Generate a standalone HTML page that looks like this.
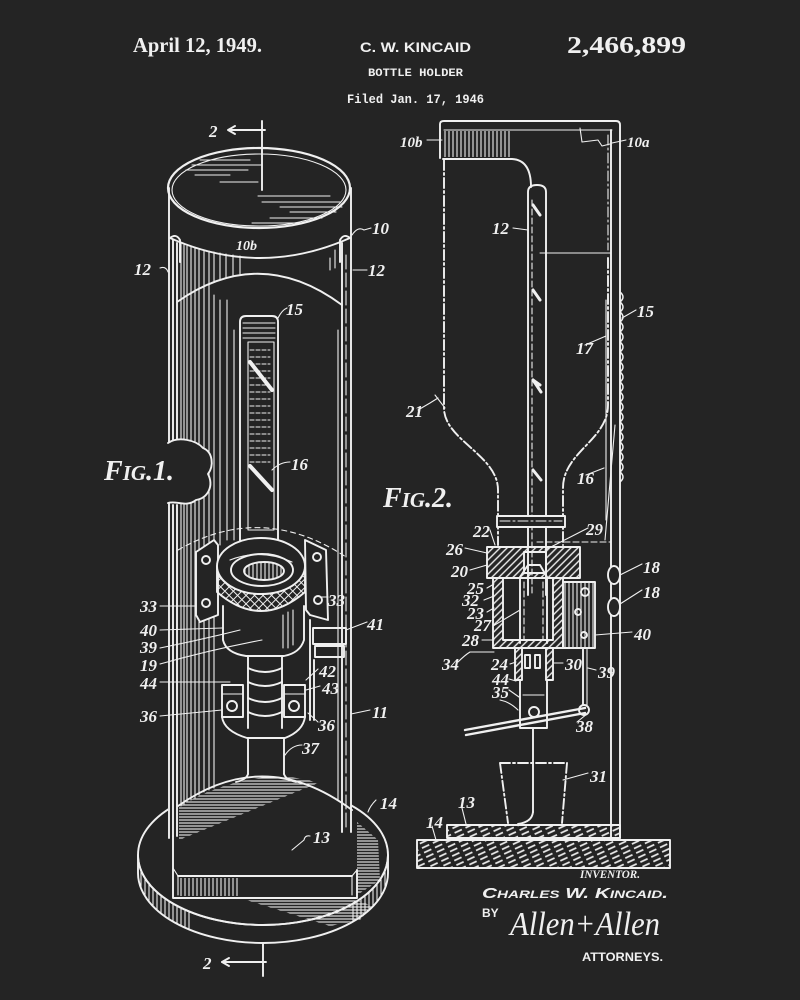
<!DOCTYPE html>
<html><head><meta charset="utf-8">
<style>
html,body{margin:0;padding:0;background:#242424;}
svg{display:block}
.l{fill:none;stroke:#f0f0f0;stroke-width:1.9;stroke-linecap:round;stroke-linejoin:round}
.t{stroke-width:1.1}
.d{stroke-dasharray:10 3 2 3}
.lab{font-family:"Liberation Serif",serif;font-style:italic;font-weight:bold;font-size:17px;fill:#f0f0f0}
</style></head><body>
<svg width="800" height="1000" viewBox="0 0 800 1000" xmlns="http://www.w3.org/2000/svg">
<defs>
 <pattern id="vh" width="4" height="10" patternUnits="userSpaceOnUse"><line x1="1" y1="0" x2="1" y2="10" stroke="#eee" stroke-width="1.1"/></pattern>
 <pattern id="hh" width="10" height="3" patternUnits="userSpaceOnUse"><line x1="0" y1="1" x2="10" y2="1" stroke="#eee" stroke-width="1.1"/></pattern>
 <pattern id="dh" width="5" height="5" patternUnits="userSpaceOnUse" patternTransform="rotate(-45)"><line x1="0" y1="1" x2="5" y2="1" stroke="#eee" stroke-width="1.4"/></pattern>
 <pattern id="kn" width="6" height="6" patternUnits="userSpaceOnUse" patternTransform="rotate(45)"><path d="M0,1 H6 M1,0 V6" stroke="#eee" stroke-width="1"/></pattern>
 <pattern id="wood" width="12" height="5" patternUnits="userSpaceOnUse" patternTransform="rotate(-25)"><line x1="0" y1="2" x2="8" y2="2" stroke="#eee" stroke-width="1.7"/></pattern>
 <clipPath id="rimclip"><rect x="130" y="840" width="62" height="120"/><rect x="352" y="840" width="50" height="120"/></clipPath>
</defs>
<rect width="800" height="1000" fill="#242424"/>

<!-- HEADER -->
<text x="133" y="52" font-family="Liberation Serif,serif" font-weight="bold" font-size="21" fill="#f0f0f0" textLength="129" lengthAdjust="spacingAndGlyphs">April 12, 1949.</text>
<text x="360" y="52" font-family="Liberation Sans,sans-serif" font-weight="bold" font-size="14" fill="#f0f0f0" textLength="111" lengthAdjust="spacingAndGlyphs">C. W. KINCAID</text>
<text x="567" y="53" font-family="Liberation Serif,serif" font-weight="bold" font-size="24" fill="#f0f0f0" textLength="119" lengthAdjust="spacingAndGlyphs">2,466,899</text>
<text x="368" y="76" font-family="Liberation Mono,monospace" font-weight="bold" font-size="11" fill="#f0f0f0" textLength="95" lengthAdjust="spacingAndGlyphs">BOTTLE HOLDER</text>
<text x="347" y="103" font-family="Liberation Mono,monospace" font-weight="bold" font-size="13" fill="#f0f0f0" textLength="137" lengthAdjust="spacingAndGlyphs">Filed Jan. 17, 1946</text>

<!-- ============ FIG 1 ============ -->
<g class="l">
 <!-- base disk -->
 <ellipse cx="263" cy="855" rx="125" ry="70"/>
 <path d="M138,855 A125,70 0 0 0 388,855 L388,873 A125,70 0 0 1 138,873 L138,855" />
 <path d="M138,855 A125,70 0 0 0 388,855 L388,873 A125,70 0 0 1 138,873 Z" fill="url(#vh)" stroke="none" clip-path="url(#rimclip)"/>
 <!-- disk shading under plate -->
 <path d="M240,898 L352,898 L372,906 L360,920 L330,926 Z" fill="url(#hh)" stroke="none"/>
 <path d="M357,822 L378,840 L380,880 L357,895 Z" fill="url(#hh)" stroke="none"/>
</g>
<!-- cylinder body cover -->
<rect x="168" y="186" width="183" height="652" fill="#242424"/>
<rect x="173" y="836" width="184" height="62" fill="#242424"/>
<g class="l">
 <!-- section 2 top -->
 <line x1="262" y1="121" x2="262" y2="190"/>
 <line x1="229" y1="130" x2="265" y2="130"/>
 <path d="M235,126 L228,130 L235,134"/>
 <!-- top ellipse -->
 <ellipse cx="259" cy="188" rx="91" ry="40" stroke-width="2.2"/>
 <ellipse cx="259" cy="190" rx="87" ry="36" class="t"/>
 <!-- top face hatch -->
 <g class="t">
  <line x1="200" y1="160" x2="250" y2="160"/><line x1="192" y1="165" x2="262" y2="165"/>
  <line x1="186" y1="170" x2="248" y2="170"/><line x1="195" y1="175" x2="230" y2="175"/>
  <line x1="220" y1="182" x2="258" y2="182"/>
  <line x1="258" y1="196" x2="330" y2="196"/><line x1="262" y1="202" x2="340" y2="202"/>
  <line x1="280" y1="207" x2="342" y2="207"/><line x1="290" y1="212" x2="336" y2="212"/>
  <line x1="270" y1="218" x2="322" y2="218"/><line x1="252" y1="223" x2="300" y2="223"/>
 </g>
 <!-- outer sides -->
 <line x1="169" y1="188" x2="169" y2="443"/>
 <line x1="169" y1="503" x2="169" y2="838"/>
 <line x1="351" y1="188" x2="351" y2="832"/>
 <line x1="173" y1="240" x2="173" y2="440"/>
 <line x1="177" y1="243" x2="177" y2="440"/>
 <line x1="173" y1="505" x2="173" y2="836"/>
 <line x1="177" y1="505" x2="177" y2="836"/>
 <line x1="342" y1="243" x2="342" y2="832"/>
 <line x1="346" y1="255" x2="346" y2="830" class="t" stroke-dasharray="14 4"/>
 <!-- cut edge and back arc -->
 <path d="M170,238 Q260,278 350,238"/>
 <path d="M177,302 Q260,244 342,305"/>
 <!-- band shading -->
 <g class="t">
  <line x1="181" y1="244" x2="181" y2="806"/><line x1="184" y1="245" x2="184" y2="804"/>
  <line x1="187" y1="246" x2="187" y2="802"/><line x1="191" y1="247" x2="191" y2="800"/>
  <line x1="195" y1="248" x2="195" y2="798"/><line x1="199" y1="249" x2="199" y2="795"/>
  <line x1="204" y1="250" x2="204" y2="792"/><line x1="209" y1="251" x2="209" y2="790"/>
  <line x1="214" y1="252" x2="214" y2="282"/><line x1="214" y1="295" x2="214" y2="788"/>
  <line x1="220" y1="253" x2="220" y2="280"/><line x1="220" y1="300" x2="220" y2="545"/>
  <line x1="226" y1="254" x2="226" y2="278"/><line x1="227" y1="300" x2="227" y2="540"/>
  <line x1="233" y1="255" x2="233" y2="276"/><line x1="234" y1="330" x2="234" y2="540"/>
  <line x1="240" y1="256" x2="240" y2="274"/>
  <line x1="330" y1="258" x2="330" y2="270"/><line x1="335" y1="250" x2="335" y2="268"/>
  <line x1="338" y1="330" x2="338" y2="800"/>
 </g>
 <!-- lips -->
 <path d="M170,238 Q176,233 180,240 L180,262" />
 <path d="M350,238 Q344,233 340,240 L340,262" />
 <!-- notch break -->
 <path d="M168,443 C178,436 196,440 203,448 C213,452 214,466 208,474 C214,486 208,498 196,500 C186,508 176,500 168,503" fill="#242424"/>
 <!-- rod 15/16 -->
 <path d="M240,548 L240,322 Q240,316 246,316 L272,316 Q278,316 278,322 L278,548" fill="#242424"/>
 <line x1="243" y1="323" x2="275" y2="323" class="t"/><line x1="243" y1="328" x2="275" y2="328" class="t"/>
 <line x1="243" y1="333" x2="275" y2="333" class="t"/><line x1="243" y1="338" x2="275" y2="338" class="t"/>
 <rect x="248" y="342" width="26" height="188" class="t"/>
 <g class="t" stroke-dasharray="4 2">
  <line x1="250" y1="350" x2="270" y2="350"/><line x1="250" y1="357" x2="270" y2="357"/><line x1="250" y1="364" x2="270" y2="364"/>
  <line x1="250" y1="371" x2="270" y2="371"/><line x1="250" y1="378" x2="270" y2="378"/><line x1="250" y1="385" x2="270" y2="385"/>
  <line x1="250" y1="392" x2="270" y2="392"/><line x1="250" y1="399" x2="270" y2="399"/><line x1="250" y1="406" x2="270" y2="406"/>
  <line x1="250" y1="413" x2="270" y2="413"/><line x1="250" y1="420" x2="270" y2="420"/><line x1="250" y1="427" x2="270" y2="427"/>
  <line x1="250" y1="434" x2="270" y2="434"/><line x1="250" y1="441" x2="270" y2="441"/><line x1="250" y1="448" x2="270" y2="448"/>
  <line x1="250" y1="455" x2="270" y2="455"/><line x1="250" y1="462" x2="270" y2="462"/>
 </g>
 <line x1="250" y1="362" x2="272" y2="390" stroke-width="4"/>
 <line x1="250" y1="466" x2="272" y2="490" stroke-width="4"/>
 <!-- dashed back arc -->
 <path d="M178,550 Q262,502 346,557" class="t" stroke-dasharray="5 4"/>
 <!-- brackets -->
 <path d="M196,552 L214,540 L218,545 L218,615 L200,622 L196,615 Z" fill="#242424"/>
 <circle cx="206" cy="560" r="4"/><circle cx="206" cy="603" r="4"/>
 <path d="M305,540 L326,550 L328,620 L310,615 L306,610 Z" fill="#242424"/>
 <circle cx="317" cy="557" r="4"/><circle cx="318" cy="600" r="4"/>
 <!-- nut -->
 <path d="M217,566 A44,28 0 0 0 305,566 L305,592 Q261,630 217,592 Z" fill="url(#kn)"/>
 <ellipse cx="261" cy="566" rx="44" ry="28" fill="#242424"/>
 <ellipse cx="262" cy="570" rx="31" ry="16"/>
 <ellipse cx="264" cy="571" rx="20" ry="9" fill="url(#vh)"/>
 <path d="M230,560 Q260,548 292,562" class="t"/>
 <!-- body 39 -->
 <path d="M223,606 L223,640 Q226,653 246,656 L284,656 Q300,653 304,640 L304,606"/>
 <g class="t"><line x1="283" y1="615" x2="283" y2="648"/><line x1="288" y1="612" x2="288" y2="648"/><line x1="293" y1="610" x2="293" y2="645"/></g>
 <!-- neck -->
 <line x1="248" y1="656" x2="248" y2="728"/><line x1="282" y1="656" x2="282" y2="728"/>
 <path d="M248,668 Q265,676 282,668 M248,682 Q265,690 282,682 M248,698 Q265,706 282,698 M248,712 Q265,720 282,712"/>
 <!-- bearings -->
 <rect x="222" y="685" width="21" height="32" fill="#242424"/>
 <rect x="284" y="685" width="21" height="32" fill="#242424"/>
 <line x1="222" y1="694" x2="243" y2="694" class="t"/><line x1="284" y1="694" x2="305" y2="694" class="t"/>
 <circle cx="232" cy="706" r="5"/><circle cx="294" cy="706" r="5"/>
 <!-- funnel & spout -->
 <path d="M222,717 Q224,731 247,738 L285,738 Q303,731 305,717"/>
 <line x1="248" y1="738" x2="248" y2="774"/><line x1="284" y1="738" x2="284" y2="774"/>
 <path d="M248,774 Q246,780 236,782 M284,774 Q286,780 296,782"/>
 <!-- side box 41 -->
 <rect x="313" y="628" width="33" height="16"/>
 <rect x="315" y="646" width="29" height="11"/>
 <path d="M310,620 L310,720 M314,660 L314,720"/>
 <!-- inner base -->
 <path d="M178,806 Q265,745 352,810"/>
 <path d="M179,806 Q225,780 275,776 Q300,777 318,783 L179,840 Z" fill="url(#hh)" stroke="none"/>
 <!-- base plate (13) -->
 <path d="M173,836 L173,898 L357,898 L357,870"/>
 <line x1="178" y1="876" x2="352" y2="876"/>
 <path d="M173,868 L178,876 L178,895 M357,870 L352,876 L352,895" class="t"/>
 <rect x="180" y="878" width="60" height="18" fill="url(#vh)" stroke="none"/>
 <!-- section 2 bottom -->
 <line x1="263" y1="943" x2="263" y2="976"/>
 <line x1="222" y1="962" x2="266" y2="962"/>
 <path d="M229,958 L222,962 L229,966"/>
 <!-- leaders fig1 -->
 <path d="M352,235 Q358,226 364,230 L371,228 M160,268 Q166,266 168,272 M353,270 L367,270 M278,318 Q282,310 287,308 M272,470 Q280,462 290,462" class="t"/>
 <path d="M160,606 L196,606 M160,630 L222,628 M160,648 Q200,640 240,630 M160,664 Q210,650 262,640 M160,682 L230,682 M160,716 L222,710 M328,597 L320,597 M367,622 L346,630 M318,669 L306,680 M320,686 L306,690 M318,722 L308,713 M370,710 L351,714 M302,745 Q292,745 285,755 M376,800 Q370,806 368,812 M310,836 Q305,835 304,840 L292,850" class="t"/>
</g>
<g class="lab">
 <text x="209" y="137">2</text>
 <text x="372" y="234">10</text>
 <text x="236" y="250" font-size="14">10b</text>
 <text x="134" y="275">12</text>
 <text x="368" y="276">12</text>
 <text x="286" y="315">15</text>
 <text x="291" y="470">16</text>
 <text x="140" y="612">33</text>
 <text x="328" y="606">33</text>
 <text x="140" y="636">40</text>
 <text x="140" y="653">39</text>
 <text x="140" y="671">19</text>
 <text x="140" y="689">44</text>
 <text x="140" y="722">36</text>
 <text x="367" y="630">41</text>
 <text x="319" y="677">42</text>
 <text x="322" y="694">43</text>
 <text x="318" y="731">36</text>
 <text x="372" y="718">11</text>
 <text x="302" y="754">37</text>
 <text x="380" y="809">14</text>
 <text x="313" y="843">13</text>
 <text x="203" y="969">2</text>
</g>
<text x="104" y="480" font-family="Liberation Serif,serif" font-style="italic" font-weight="bold" fill="#f0f0f0"><tspan font-size="28">F</tspan><tspan font-size="21">IG</tspan><tspan font-size="28">.1.</tspan></text>

<!-- ============ FIG 2 ============ -->
<g class="l">
 <!-- cap -->
 <path d="M440,158 L440,124 Q440,121 444,121 L616,121 Q620,121 620,125 L620,838"/>
 <line x1="444" y1="130" x2="612" y2="130" class="t"/>
 <line x1="611" y1="130" x2="611" y2="838"/>
 <rect x="443" y="131" width="68" height="26" fill="url(#vh)" stroke="none"/>
 <path d="M443,159 L512,159 Q531,160 531,187"/>
 <path d="M580,128 L582,142 L598,140 L602,146 L610,144" class="t"/>
 <line x1="608" y1="135" x2="608" y2="250" class="d t"/>
 <!-- tube 12 -->
 <path d="M528,595 L528,192 Q528,185 537,185 Q546,185 546,192 L546,595"/>
 <line x1="532" y1="200" x2="532" y2="595" class="t" stroke-dasharray="6 3"/>
 <path d="M533,205 L540,215 M533,290 L540,300 M533,380 L541,392 M533,470 L541,480 M533,380 L540,385" stroke-width="3"/>
 <line x1="540" y1="253" x2="611" y2="253" class="t"/>
 <!-- bottle outline -->
 <path d="M444,160 L444,408 C444,440 498,455 498,490 L498,545" class="d"/>
 <path d="M608,258 L608,405 C608,440 563,452 563,488 L563,545" class="d"/>
 <!-- chain 15 -->
 <path d="M620,292 q6,5 0,10 q6,5 0,10 q6,5 0,10 q6,5 0,10 q6,5 0,10 q6,5 0,10 q6,5 0,10 q6,5 0,10 q6,5 0,10 q6,5 0,10 q6,5 0,10 q6,5 0,10 q6,5 0,10 q6,5 0,10 q6,5 0,10 q6,5 0,10 q6,5 0,10 q6,5 0,10 q6,5 0,10" stroke-width="1.5"/>
 <line x1="606" y1="300" x2="606" y2="520" class="t"/>
 <line x1="615" y1="425" x2="605" y2="540" class="t"/>
 <!-- neck band -->
 <rect x="497" y="516" width="68" height="11" fill="#242424"/>
 <line x1="500" y1="521" x2="562" y2="521" class="t d"/>
 <line x1="537" y1="542" x2="611" y2="542" class="t" stroke-dasharray="6 3"/>
 <!-- cap block 26/20 -->
 <path d="M487,547 L580,547 L580,578 L487,578 Z M524,552 L546,552 L546,573 L524,573 Z" fill="url(#dh)" fill-rule="evenodd"/>
 <!-- body walls -->
 <path d="M493,578 L503,578 L503,640 L553,640 L553,578 L563,578 L563,648 L493,648 Z" fill="url(#dh)"/>
 <!-- inner cylinder 27 -->
 <path d="M520,643 L520,577 L528,565 L540,565 L547,577 L547,643"/>
 <line x1="524" y1="582" x2="524" y2="640" class="t" stroke-dasharray="6 3"/>
 <line x1="543" y1="582" x2="543" y2="640" class="t" stroke-dasharray="6 3"/>
 <line x1="515" y1="640" x2="540" y2="640"/>
 <!-- lower part 24 -->
 <path d="M515,648 L522,648 L522,680 L515,680 Z M546,648 L553,648 L553,680 L546,680 Z" fill="url(#dh)"/>
 <rect x="525" y="655" width="5" height="13"/><rect x="535" y="655" width="5" height="13"/>
 <!-- tube 35 -->
 <path d="M520,680 L520,728 L547,728 L547,680"/>
 <line x1="523" y1="695" x2="544" y2="695" class="t"/>
 <circle cx="534" cy="712" r="5"/>
 <!-- lever -->
 <path d="M465,730 L585,708 M466,735 L585,713" stroke-width="2.4"/>
 <circle cx="584" cy="710" r="5"/>
 <line x1="583" y1="648" x2="583" y2="705"/><line x1="587" y1="648" x2="587" y2="705" class="t"/>
 <!-- box 40 -->
 <rect x="563" y="582" width="32" height="66" fill="url(#vh)"/>
 <circle cx="585" cy="592" r="4"/><circle cx="578" cy="612" r="3"/><circle cx="584" cy="635" r="3"/>
 <!-- chain 18 -->
 <ellipse cx="614" cy="575" rx="6" ry="9" fill="#242424"/>
 <ellipse cx="614" cy="607" rx="6" ry="9" fill="#242424"/>
 <!-- stem & cup -->
 <line x1="533" y1="728" x2="533" y2="812"/>
 <path d="M533,812 Q532,822 518,824"/>
 <path d="M500,763 L567,763 M500,763 L508,823 M567,763 L562,823" stroke-dasharray="10 3 2 3"/>
 <!-- base 13 & 14 -->
 <rect x="447" y="825" width="173" height="13" fill="url(#wood)"/>
 <rect x="417" y="840" width="253" height="28" fill="url(#wood)"/>
 <!-- leaders fig2 -->
 <path d="M427,140 L442,140 M612,143 L626,140 M513,228 L528,230 M636,310 L622,318 M585,345 L606,336 M418,410 L430,403 L438,398 M435,395 L445,408 M586,475 L604,468" class="t"/>
 <path d="M490,530 L495,545 M588,528 L545,550 M465,548 L487,553 M470,570 L487,565 M487,588 L494,584 M484,600 L494,596 M487,612 L494,608 M493,626 L520,610 M482,640 L494,640 M458,662 Q465,655 470,652 L494,652 M510,664 L516,662 M563,663 L553,663 M509,679 L516,681 M509,690 L519,697 M500,700 Q510,702 518,710 M596,670 L588,668 M577,722 L587,714 M642,564 L620,575 M642,590 L620,604 M632,632 L595,635 M588,773 L563,780 M462,808 L466,824 M432,826 L436,840" class="t"/>
</g>
<g class="lab">
 <text x="400" y="147" font-size="15">10b</text>
 <text x="627" y="147" font-size="15">10a</text>
 <text x="492" y="234">12</text>
 <text x="637" y="317">15</text>
 <text x="576" y="354">17</text>
 <text x="406" y="417">21</text>
 <text x="577" y="484">16</text>
 <text x="473" y="537">22</text>
 <text x="586" y="535">29</text>
 <text x="446" y="555">26</text>
 <text x="451" y="577">20</text>
 <text x="467" y="594">25</text>
 <text x="462" y="606">32</text>
 <text x="467" y="619">23</text>
 <text x="474" y="631">27</text>
 <text x="462" y="646">28</text>
 <text x="442" y="670">34</text>
 <text x="491" y="670">24</text>
 <text x="565" y="670">30</text>
 <text x="492" y="685">44</text>
 <text x="492" y="698">35</text>
 <text x="598" y="678">39</text>
 <text x="576" y="732">38</text>
 <text x="643" y="573">18</text>
 <text x="643" y="598">18</text>
 <text x="634" y="640">40</text>
 <text x="590" y="782">31</text>
 <text x="458" y="808">13</text>
 <text x="426" y="828">14</text>
</g>
<text x="383" y="507" font-family="Liberation Serif,serif" font-style="italic" font-weight="bold" fill="#f0f0f0"><tspan font-size="28">F</tspan><tspan font-size="21">IG</tspan><tspan font-size="28">.2.</tspan></text>

<!-- signature block -->
<text x="580" y="878" font-family="Liberation Serif,serif" font-style="italic" font-weight="bold" font-size="12" fill="#f0f0f0" textLength="60" lengthAdjust="spacingAndGlyphs">INVENTOR.</text>
<text x="482" y="898" font-family="Liberation Sans,sans-serif" font-style="italic" font-weight="bold" font-size="15" fill="#f0f0f0" textLength="186" lengthAdjust="spacingAndGlyphs" style="font-variant:small-caps">Charles W. Kincaid.</text>
<text x="482" y="917" font-family="Liberation Sans,sans-serif" font-weight="bold" font-size="12" fill="#f0f0f0">BY</text>
<text x="510" y="935" font-family="Liberation Serif,serif" font-style="italic" font-size="34" fill="#f0f0f0" textLength="150" lengthAdjust="spacingAndGlyphs">Allen+Allen</text>
<text x="582" y="961" font-family="Liberation Sans,sans-serif" font-weight="bold" font-size="12" fill="#f0f0f0" textLength="81" lengthAdjust="spacingAndGlyphs">ATTORNEYS.</text>
</svg>
</body></html>
